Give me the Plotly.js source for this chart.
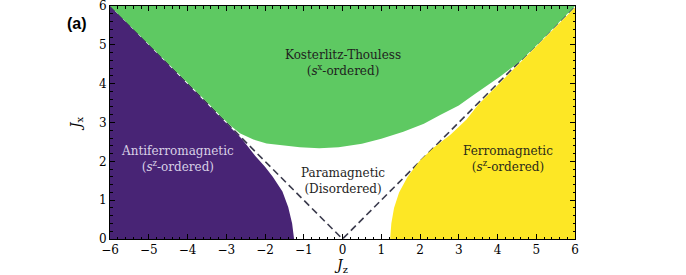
<!DOCTYPE html>
<html>
<head>
<meta charset="utf-8">
<script src="https://cdn.plot.ly/plotly-3.0.1.min.js"></script>
<style>html,body{margin:0;padding:0;background:#fff;}#chart{width:686px;height:275px;}</style>
</head>
<body>
<div id="chart"></div>
<script>
// Phase boundaries (Jz, Jx)
const afmJz = [-6, -5, -4, -3.5, -3.0, -2.6, -2.25, -2.0, -1.8, -1.55, -1.4, -1.3, -1.25, -6];
const afmJx = [6, 5, 4, 3.5, 3.0, 2.58, 2.14, 1.86, 1.6, 1.22, 0.82, 0.4, 0, 0];

const fmJz = [1.23, 1.26, 1.33, 1.46, 1.68, 1.98, 2.35, 2.8, 3.2, 3.5, 6, 6];
const fmJx = [0, 0.4, 0.8, 1.2, 1.6, 2.0, 2.35, 2.7, 3.08, 3.46, 5.96, 0];

const ktJz = [-6, -5, -4, -3.5, -3.15, -2.9, -2.65, -2.3, -1.96, -1.5, -1.1, -0.6, -0.1, 0.5, 1.0, 1.57, 2.1, 2.52, 3.0, 3.38, 4.06, 4.58, 5.05, 6];
const ktJx = [6, 5.02, 4.03, 3.53, 3.17, 2.93, 2.72, 2.56, 2.46, 2.40, 2.36, 2.34, 2.36, 2.45, 2.58, 2.76, 2.97, 3.19, 3.44, 3.71, 4.18, 4.57, 5.03, 6];

const dashJz = [-6, 0, 6];
const dashJx = [6, 0, 6];

const tickVals = [-6, -5, -4, -3, -2, -1, 0, 1, 2, 3, 4, 5, 6];
const yTickVals = [0, 1, 2, 3, 4, 5, 6];

const labelText = ["Kosterlitz-Thouless<br>(<i>s</i><sup>x</sup>-ordered)",
                   "Antiferromagnetic<br>(<i>s</i><sup>z</sup>-ordered)",
                   "Paramagnetic<br>(Disordered)",
                   "Ferromagnetic<br>(<i>s</i><sup>z</sup>-ordered)"];
const labelJz = [0.0, -4.25, 0.0, 4.27];
const labelJx = [4.53, 2.05, 1.5, 2.06];
const labelColor = ["#1e1e1e", "#d8d0e6", "#1e1e1e", "#2a2a1a"];

const serif = "DejaVu Serif";

const traces = [
  {x: dashJz, y: dashJx, mode: "lines", line: {color: "#3a3a4c", width: 1.6, dash: "7px,4px"}, hoverinfo: "skip"},
  {x: afmJz, y: afmJx, mode: "lines", fill: "toself", fillcolor: "#482475", line: {width: 0}, hoverinfo: "skip"},
  {x: fmJz, y: fmJx, mode: "lines", fill: "toself", fillcolor: "#fde725", line: {width: 0}, hoverinfo: "skip"},
  {x: ktJz, y: ktJx, mode: "lines", fill: "toself", fillcolor: "#5ec962", line: {width: 0}, hoverinfo: "skip"},
  // invisible trace anchoring the mirrored top/right axes
  {x: [-6, 6], y: [0, 6], xaxis: "x2", yaxis: "y2", mode: "markers", marker: {opacity: 0}, hoverinfo: "skip"}
];

const annotations = labelText.map((t, i) => ({
  x: labelJz[i], y: labelJx[i], xref: "x", yref: "y", text: t, showarrow: false,
  font: {family: serif, size: 12, color: labelColor[i]}, align: "center"
}));
annotations.push({x: (65 - 110) / 465, y: (239 - 13) / 233, xref: "paper", yref: "paper",
  text: "<b>(a)</b>", showarrow: false,
  font: {family: "Liberation Sans, Arial, sans-serif", size: 16, color: "#000"}});

const axisCommon = {
  showgrid: false, zeroline: false, showline: true, linecolor: "#000", linewidth: 1,
  ticks: "inside", ticklen: 5, tickwidth: 1, tickcolor: "#000", layer: "above traces",
  tickmode: "array",
  minor: {tickmode: "linear", dtick: 0.2, tick0: 0, ticks: "inside", ticklen: 2.5, tickwidth: 1, tickcolor: "#000"},
  tickfont: {family: serif, size: 12, color: "#000"},
  ticklabeloverflow: "allow"
};

const layout = {
  width: 686, height: 275,
  margin: {l: 110, r: 111, t: 6, b: 36},
  paper_bgcolor: "#fff", plot_bgcolor: "#fff",
  font: {family: serif},
  showlegend: false,
  xaxis: Object.assign({}, axisCommon, {range: [-6, 6], tickvals: tickVals,
    ticktext: tickVals.map(v => v < 0 ? "\u2212" + Math.abs(v) : String(v)),
    title: {text: "<i>J</i><sub>z</sub>", font: {family: serif, size: 14, color: "#000"}, standoff: 4}}),
  yaxis: Object.assign({}, axisCommon, {range: [0, 6], tickvals: yTickVals,
    ticktext: yTickVals.map(String),
    title: {text: "<i>J</i><sub>x</sub>", font: {family: serif, size: 14, color: "#000"}, standoff: 14}}),
  xaxis2: Object.assign({}, axisCommon, {range: [-6, 6], overlaying: "x", side: "top", anchor: "y",
    tickvals: tickVals, showticklabels: false}),
  yaxis2: Object.assign({}, axisCommon, {range: [0, 6], overlaying: "y", side: "right", anchor: "x",
    tickvals: yTickVals, showticklabels: false}),
  annotations: annotations
};

Plotly.newPlot("chart", traces, layout, {staticPlot: true, displayModeBar: false});
</script>
</body>
</html>
